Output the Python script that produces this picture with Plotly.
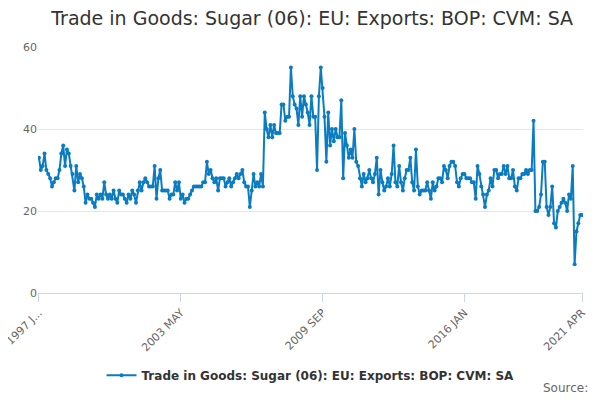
import plotly.graph_objects as go

months = ["JAN","FEB","MAR","APR","MAY","JUN","JUL","AUG","SEP","OCT","NOV","DEC"]
y1997 = [33,30,31,34,30,29,28,26,27,28,28,30]
y1998 = [34,36,31,35,34,31,29,25,31,27,29,28]
y1999 = [26,22,24,23,23,22,21,24,23,24,23,27]
y2000 = [24,23,24,23,25,23,22,25,24,24,23,22]
y2001 = [24,23,25,24,22,25,27,25,27,28,27,26]
y2002 = [26,26,31,23,28,30,25,25,25,25,23,24]
y2003 = [24,27,25,27,23,24,22,23,23,24,25,26]
y2004 = [26,26,26,26,27,27,32,29,30,28,27,28]
y2005 = [25,28,28,28,26,27,28,26,27,28,29,28]
y2006 = [29,30,27,26,26,21,25,29,26,27,26,29]
y2007 = [26,44,40,38,41,38,41,39,39,39,46,46]
y2008 = [42,43,43,55,48,46,45,41,48,43,48,46]
y2009 = [44,41,48,43,43,30,48,55,50,43,32,44]
y2010 = [36,40,37,40,38,38,47,28,39,36,33,35]
y2011 = [33,40,32,31,28,26,29,27,28,30,28,27]
y2012 = [29,33,24,30,27,25,26,28,26,29,36,27]
y2013 = [26,31,27,25,28,30,30,33,27,25,35,26]
y2014 = [24,25,25,25,27,25,23,27,25,26,28,28]
y2015 = [27,31,30,28,31,32,32,31,27,26,28,29]
y2016 = [29,28,28,28,27,27,23,31,29,26,24,21]
y2017 = [24,25,28,26,30,30,28,29,29,31,29,31]
y2018 = [28,28,30,26,25,28,28,29,29,30,29,30]
y2019 = [30,42,20,20,21,24,32,32,21,19,21,26]
y2020 = [17,16,20,21,22,23,22,20,24,23,31,7]
y2021 = [15,17,19,19]

years = [y1997,y1998,y1999,y2000,y2001,y2002,y2003,y2004,y2005,y2006,y2007,y2008,
         y2009,y2010,y2011,y2012,y2013,y2014,y2015,y2016,y2017,y2018,y2019,y2020,y2021]
dates, values = [], []
for i, vals in enumerate(years):
    for j, v in enumerate(vals):
        dates.append(f"{1997+i} {months[j]}")
        values.append(v)

tick_vals = ["1997 JAN","2003 MAY","2009 SEP","2016 JAN","2021 APR"]
tick_text = ["1997 J...","2003 MAY","2009 SEP","2016 JAN","2021 APR"]
name = "Trade in Goods: Sugar (06): EU: Exports: BOP: CVM: SA"

fig = go.Figure(go.Scatter(x=dates, y=values, mode="lines+markers", name=name,
                           line=dict(color="#0a7cc1", width=2),
                           marker=dict(size=4, color="#0a7cc1")))
fig.update_layout(
    width=600, height=400, paper_bgcolor="white", plot_bgcolor="white",
    margin=dict(l=30, r=25, t=39, b=115, autoexpand=False),
    title=dict(text=name, x=0.507, y=0.975, xanchor="center", yanchor="middle",
               font=dict(family="DejaVu Sans", size=19, color="#333")),
    font=dict(family="DejaVu Sans", size=11, color="#666"),
    showlegend=True,
    legend=dict(orientation="h", x=0.5, xanchor="center", y=-0.275, yanchor="top",
                font=dict(size=12, color="#333", weight="bold")),
    annotations=[dict(text="Source:", x=1, xref="paper", y=0, yref="paper",
                      yshift=-104, xshift=7, showarrow=False, xanchor="right",
                      font=dict(size=12, color="#666"))],
)
fig.update_xaxes(type="category", tickmode="array", tickvals=tick_vals, ticktext=tick_text,
                 tickangle=-45, ticks="outside", ticklen=8, tickcolor="#ccd6eb", automargin=False,
                 showline=True, linecolor="#ccd6eb", showgrid=False, range=[-0.5, len(dates)-0.5])
fig.update_yaxes(range=[0, 60], tickvals=[0,20,40,60], gridcolor="#e6e6e6", automargin=False,
                 zeroline=False, showline=False)
fig.write_html("out.html")
